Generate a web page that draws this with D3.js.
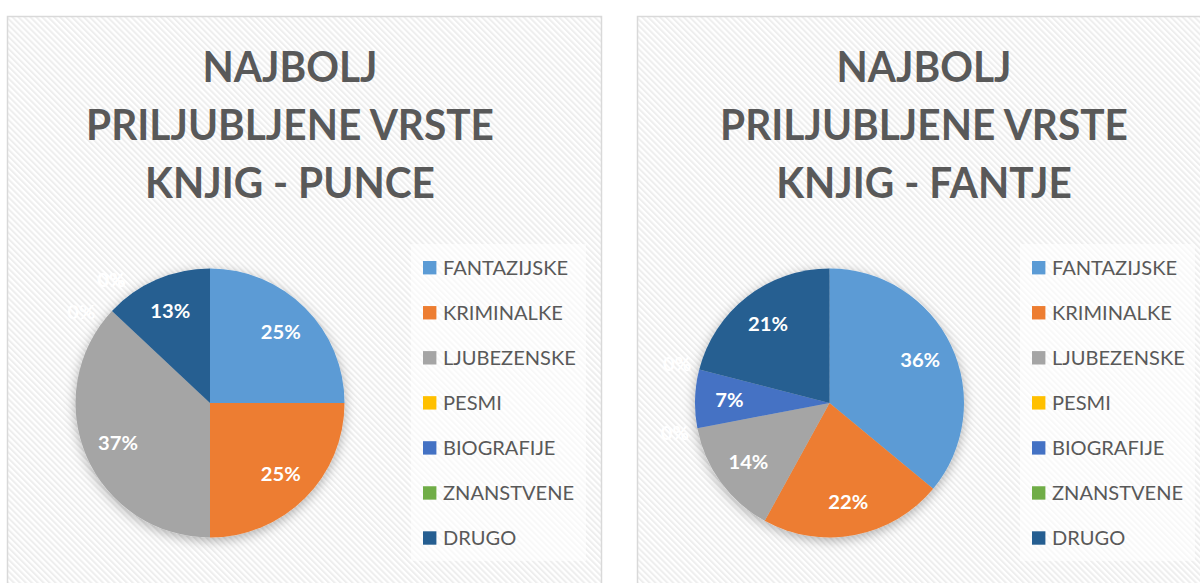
<!DOCTYPE html>
<html>
<head>
<meta charset="utf-8">
<script src="https://cdn.jsdelivr.net/npm/d3@7"></script>
<style>
  html, body { margin: 0; padding: 0; background: #ffffff; overflow: hidden; }
  svg { display: block; }
</style>
</head>
<body>
<svg id="chart" width="1200" height="583"></svg>
<script>
// ---------------- DATA ----------------
const categories = ["FANTAZIJSKE", "KRIMINALKE", "LJUBEZENSKE", "PESMI", "BIOGRAFIJE", "ZNANSTVENE", "DRUGO"];
const punceValues = [25, 25, 37, 0, 0, 0, 13];
const fantjeValues = [36, 22, 14, 0, 7, 0, 21];
const punceTitle = ["NAJBOLJ", "PRILJUBLJENE VRSTE", "KNJIG - PUNCE"];
const fantjeTitle = ["NAJBOLJ", "PRILJUBLJENE VRSTE", "KNJIG - FANTJE"];
const sliceColors = ["#5B9BD5", "#ED7D31", "#A5A5A5", "#FFC000", "#4472C4", "#70AD47", "#255E91"];

// ---------------- LAYOUT ----------------
const FONT = "Lato, 'Open Sans', sans-serif";
const CAP = 0.717; // Lato cap-height ratio
const svg = d3.select("#chart");

function fitSize(text, weight, target) {
  const t = svg.append("text").attr("font-family", FONT).attr("font-weight", weight)
    .attr("font-size", 100).text(text);
  const w = t.node().getComputedTextLength();
  t.remove();
  return 100 * target / w;
}

const titleSize = fitSize("PRILJUBLJENE VRSTE", 700, 408);
const legendSize = fitSize("FANTAZIJSKE", 400, 125);
const labelSize = fitSize("25%", 700, 40);
const titleK = 30.5 / (CAP * titleSize);
const legendK = 14.3 / (CAP * legendSize);
const labelK = 14.2 / (CAP * labelSize);

const defs = svg.append("defs");
const pat = defs.append("pattern").attr("id", "diag")
  .attr("patternUnits", "userSpaceOnUse").attr("width", 4.2).attr("height", 4.2)
  .attr("patternTransform", "rotate(-45)");
pat.append("rect").attr("width", 4.2).attr("height", 4.2).attr("fill", "#ffffff");
pat.append("rect").attr("width", 2).attr("height", 4.2).attr("fill", "#eeeeee");

const shadow = defs.append("filter").attr("id", "pieShadow")
  .attr("x", "-30%").attr("y", "-30%").attr("width", "160%").attr("height", "160%");
shadow.append("feDropShadow").attr("dx", 0).attr("dy", 3).attr("stdDeviation", 6)
  .attr("flood-color", "#000").attr("flood-opacity", 0.3);

const panels = [
  { values: punceValues, title: punceTitle, x: 7.5, w: 594, cx: 210, titleX: 290, legendX: 411 },
  { values: fantjeValues, title: fantjeTitle, x: 637.5, w: 594, cx: 829.5, titleX: 924, legendX: 1020 }
];

const pctFmt = d3.format(".0%");

panels.forEach(p => {
  const g = svg.append("g");
  g.append("rect").attr("x", p.x).attr("y", 16.5).attr("width", p.w).attr("height", 620)
    .attr("fill", "url(#diag)").attr("stroke", "#d9d9d9").attr("stroke-width", 1.5);

  // Title
  const titleY = d3.scalePoint().domain(d3.range(p.title.length)).range([82, 198]);
  g.selectAll("text.title").data(p.title).join("text")
    .attr("class", "title")
    .attr("transform", (d, i) => `translate(${p.titleX},${titleY(i)}) scale(1,${titleK})`)
    .attr("text-anchor", "middle")
    .attr("font-family", FONT).attr("font-weight", 700)
    .attr("font-size", titleSize).attr("fill", "#595959")
    .text(d => d);

  // Pie
  const cy = 403, r = 134.5;
  const total = d3.sum(p.values);
  const pie = d3.pie().sort(null).value(d => d.v);
  const arcs = pie(p.values.map((v, i) => ({ v, cat: categories[i], i })));
  const arc = d3.arc().innerRadius(0).outerRadius(r);
  const pg = g.append("g").attr("transform", `translate(${p.cx},${cy})`);
  pg.append("g").attr("filter", "url(#pieShadow)")
    .selectAll("path").data(arcs.filter(a => a.data.v > 0)).join("path")
    .attr("d", arc).attr("fill", a => sliceColors[a.data.i]);

  // Labels
  const seen = {};
  const labels = arcs.map(a => {
    let ang = (a.startAngle + a.endAngle) / 2;
    let rad = r * 0.745;
    if (a.data.v === 0) {
      const key = a.startAngle.toFixed(4);
      seen[key] = (seen[key] || 0) + 1;
      const n = seen[key];
      const others = arcs.filter(b => b.data.v === 0 && b.startAngle.toFixed(4) === key).length;
      if (others > 1) ang += (n % 2 === 1 ? 8 : -8) * Math.PI / 180;
      rad = r * 1.17;
    }
    return { a, x: Math.sin(ang) * rad, y: -Math.cos(ang) * rad };
  });
  pg.selectAll("text.lbl").data(labels).join("text")
    .attr("class", "lbl")
    .attr("transform", d => `translate(${d.x},${d.y + 7.1}) scale(1,${labelK})`)
    .attr("text-anchor", "middle")
    .attr("font-family", FONT).attr("font-weight", 700)
    .attr("font-size", labelSize).attr("fill", "#ffffff")
    .text(d => pctFmt(d.a.data.v / total));

  // Legend
  const lg = g.append("g");
  lg.append("rect").attr("x", p.legendX).attr("y", 244).attr("width", 175).attr("height", 317)
    .attr("fill", "#ffffff").attr("fill-opacity", 0.6);
  const ly = d3.scalePoint().domain(categories).range([267.7, 538]);
  const items = lg.selectAll("g.item").data(categories).join("g").attr("class", "item")
    .attr("transform", d => `translate(${p.legendX + 12},${ly(d)})`);
  items.append("rect").attr("x", 0).attr("y", -6.7).attr("width", 13.4).attr("height", 13.4)
    .attr("fill", (d, i) => sliceColors[i]);
  items.append("text")
    .attr("transform", `translate(20,7.2) scale(1,${legendK})`)
    .attr("font-family", FONT).attr("font-size", legendSize).attr("fill", "#595959")
    .text(d => d);
});
</script>
</body>
</html>
